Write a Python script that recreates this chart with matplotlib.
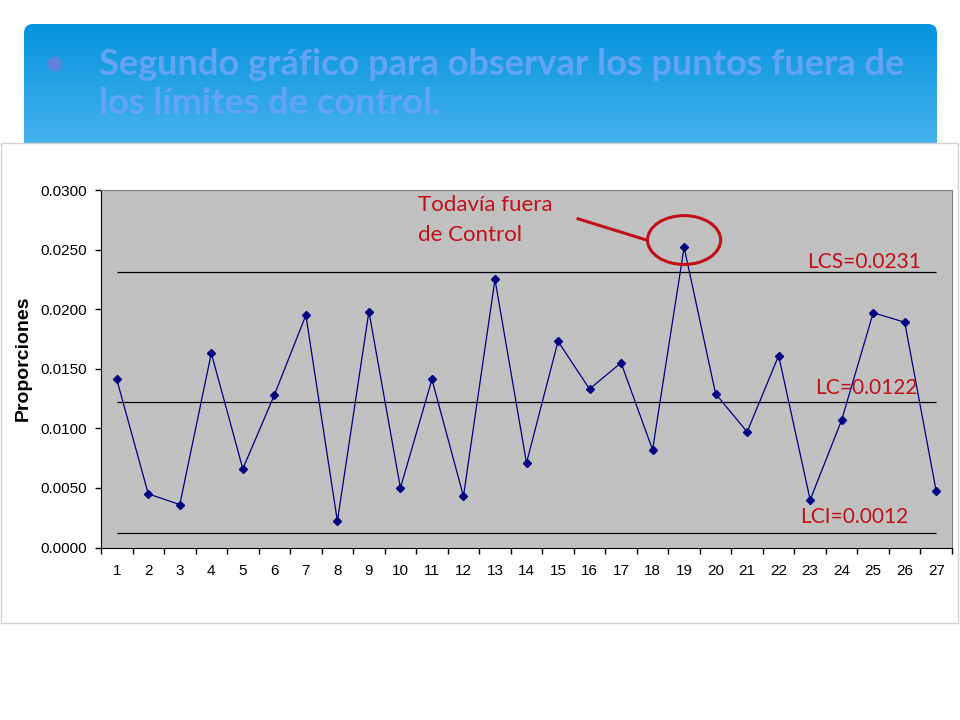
import matplotlib.pyplot as plt
import numpy as np
from matplotlib.patches import FancyBboxPatch, Rectangle, Ellipse, Circle
from matplotlib.colors import LinearSegmentedColormap

# datos de la carta p
muestras = list(range(1, 28))
proporciones = [0.0141, 0.0045, 0.0036, 0.0163, 0.0066, 0.0128, 0.0195, 0.0022, 0.0198, 0.0050,
                0.0141, 0.0043, 0.0225, 0.0071, 0.0173, 0.0133, 0.0155, 0.0082, 0.0252, 0.0129,
                0.0097, 0.0161, 0.0040, 0.0107, 0.0197, 0.0189, 0.0047]
lcs = 0.0231
lc = 0.0122
lci = 0.0012
punto_fuera = 19

titulo = ['Segundo gráfico para observar los puntos fuera de',
          'los límites de control.']
rojo = '#c0101a'

fig = plt.figure(figsize=(9.6, 7.2), dpi=100)

# fondo en coordenadas de pixel
bg = fig.add_axes([0, 0, 1, 1])
bg.set_xlim(0, 960)
bg.set_ylim(720, 0)
bg.axis('off')

# banda azul con degradado
cmap = LinearSegmentedColormap.from_list('banda', ['#0593de', '#50b6ef'])
grad = np.linspace(0, 1, 256).reshape(-1, 1)
im = bg.imshow(grad, extent=[24, 937, 160, 24], cmap=cmap, aspect='auto', origin='upper')
caja = FancyBboxPatch((24, 24), 913, 136, boxstyle='round,pad=0,rounding_size=9',
                      fc='none', ec='none', transform=bg.transData)
bg.add_patch(caja)
im.set_clip_path(caja)
bg.add_patch(Circle((55, 64), 6.5, color='#6283dd', zorder=2))

t1 = bg.text(99, 75, titulo[0], fontsize=22, fontweight='bold', family='Lato',
             color='#62a3f3', va='baseline', ha='left', zorder=2)
fig.canvas.draw()
ancho = t1.get_window_extent().width
tam = 22 * 805 / ancho
t1.set_fontsize(tam)
bg.text(99, 113.5, titulo[1], fontsize=tam, fontweight='bold', family='Lato',
        color='#62a3f3', va='baseline', ha='left', zorder=2)

# recuadro del grafico
bg.add_patch(Rectangle((0.5, 143), 957, 480, fc='white', ec='#d4d4d4', lw=1, zorder=3))

# area de trazado
ax = fig.add_axes([101 / 960, 1 - 547.5 / 720, 851 / 960, 357.5 / 720])
ax.set_facecolor('#c0c0c0')
ax.plot(muestras, proporciones, color='#000080', lw=0.9, marker='D', ms=4,
        mfc='#000080', mec='#000080', zorder=3)
ax.hlines([lcs, lc, lci], muestras[0], muestras[-1], color='black', lw=0.9, zorder=2)

ax.set_xlim(0.5, 27.5)
ax.set_ylim(0, 0.03)
ax.set_yticks(np.arange(0, 0.0301, 0.005))
ax.set_yticklabels([f'{v:.4f}' for v in np.arange(0, 0.0301, 0.005)],
                   family='Liberation Sans', fontsize=11)
ax.set_xticks(np.arange(0.5, 28, 1))
ax.set_xticklabels([])
ax.set_xticks(muestras, minor=True)
ax.set_xticklabels([str(m) for m in muestras], minor=True, family='Liberation Sans', fontsize=11)
ax.tick_params(axis='y', direction='out', length=4, width=1, pad=6)
ax.tick_params(axis='x', which='major', direction='out', length=4, width=1)
ax.tick_params(axis='x', which='minor', length=0, pad=12)
for lado in ['top', 'right']:
    ax.spines[lado].set_color('#808080')
for lado in ['left', 'bottom']:
    ax.spines[lado].set_color('black')
ax.set_ylabel('Proporciones', family='Liberation Sans', fontsize=14, fontweight='bold')
ax.yaxis.set_label_coords(-69 / 851, 0.529)

# anotaciones
yf = proporciones[punto_fuera - 1]
ax.add_patch(Ellipse((punto_fuera, yf + 0.0006), 2.32, 0.0041, fc='none', ec=rojo, lw=2.2, zorder=4))
ax.plot([15.59, 17.81], [0.02762, yf + 0.0006], color=rojo, lw=2.2, zorder=4,
        solid_capstyle='butt')
ax.text(10.56, 0.02874, 'Todavía fuera', family='Lato', fontsize=16, color=rojo, va='center', ha='left')
ax.text(10.56, 0.02622, 'de Control', family='Lato', fontsize=16, color=rojo, va='center', ha='left')
ax.text(26.52, lcs + 0.00086, f'LCS={lcs}', family='Lato', fontsize=15, color=rojo, va='center', ha='right')
ax.text(26.42, lc + 0.00118, f'LC={lc}', family='Lato', fontsize=15, color=rojo, va='center', ha='right')
ax.text(26.13, lci + 0.00134, f'LCI={lci}', family='Lato', fontsize=15, color=rojo, va='center', ha='right')

plt.savefig('out.png', dpi=100)
